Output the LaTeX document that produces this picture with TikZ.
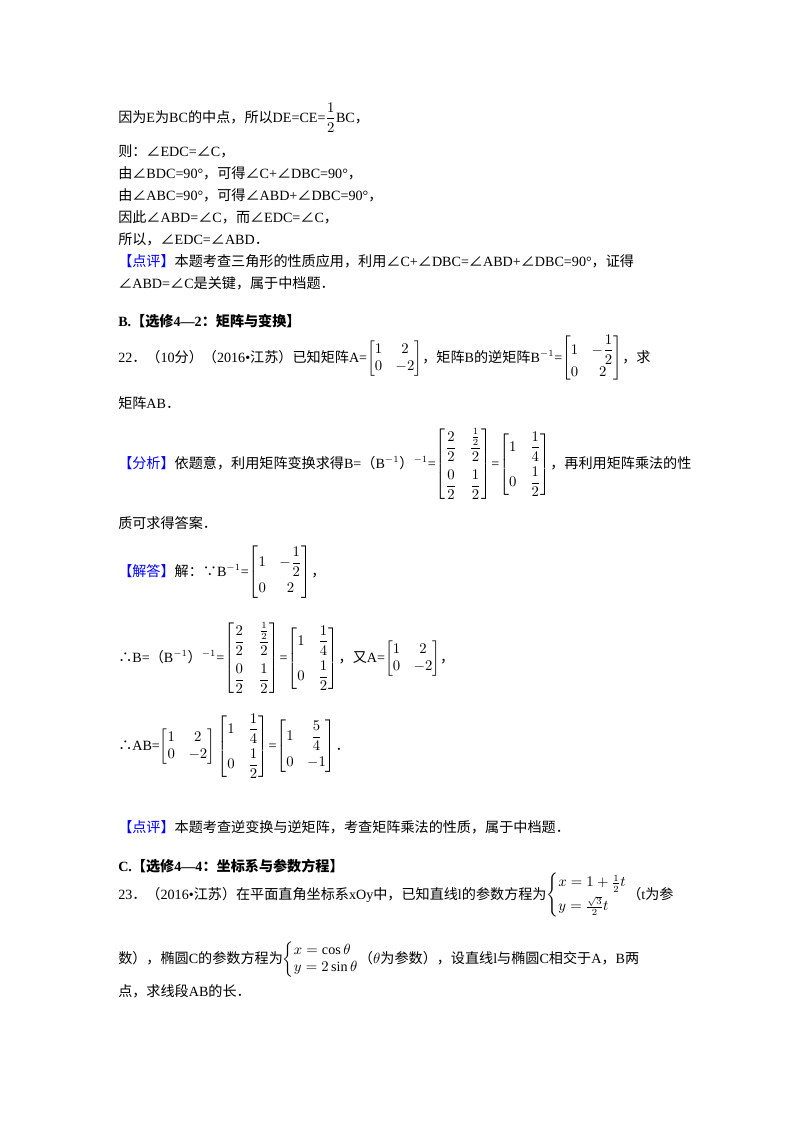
\documentclass[tikz,border=0pt]{standalone}
\usepackage{amsmath}
\usepackage{fontspec}
\setmainfont{Liberation Serif}
\newfontfamily\cjk{Noto Sans CJK SC}
\newcommand{\ang}{{\cjk ∠}}
\newcommand{\C}[1]{{\cjk #1}}
\definecolor{tagblue}{RGB}{0,0,255}
\newcommand{\btag}[1]{{\color{tagblue}\cjk 【#1】}}
\newcommand{\mm}[1]{\left[\begin{matrix}#1\end{matrix}\right]}
\begin{document}
\begin{tikzpicture}[x=0.744pt,y=-0.744pt,
  ln/.style={anchor=base west,inner sep=0pt,font=\fontsize{10.5}{13}\selectfont}]
\useasboundingbox (0,0) rectangle (800,1132);
\node[ln] (l1) at (118,122) {\C{因为}E\C{为}BC\C{的中点，所以}DE=CE=$\dfrac{1}{2}$BC\C{，}};
\node[ln] (l2) at (118,156) {\C{则：}\ang EDC=\ang C\C{，}};
\node[ln] (l3) at (118,178) {\C{由}\ang BDC=90°\C{，可得}\ang C+\ang DBC=90°\C{，}};
\node[ln] (l4) at (118,200) {\C{由}\ang ABC=90°\C{，可得}\ang ABD+\ang DBC=90°\C{，}};
\node[ln] (l5) at (118,222) {\C{因此}\ang ABD=\ang C\C{，而}\ang EDC=\ang C\C{，}};
\node[ln] (l6) at (118,244) {\C{所以，}\ang EDC=\ang ABD\C{．}};
\node[ln] (l7) at (118,266) {\btag{点评}\C{本题考查三角形的性质应用，利用}\ang C+\ang DBC=\ang ABD+\ang DBC=90°\C{，证得}};
\node[ln] (l8) at (118,288) {\ang ABD=\ang C\C{是关键，属于中档题．}};
\node[ln,font=\fontsize{10.5}{13}\selectfont\bfseries] (l9) at (118,326) {B.{\cjk\bfseries 【选修}4—2{\cjk\bfseries ：矩阵与变换】}};
\node[ln] (l10) at (118,362) {22\C{．（}10\C{分）（}2016•\C{江苏）已知矩阵}A=$\mm{1 & 2\\ 0 & -2}$\C{，矩阵}B\C{的逆矩阵}B$^{-1}$=$\mm{1 & -\dfrac12\\[4pt] 0 & 2}$\C{，求}};
\node[ln] (l11) at (118,408) {\C{矩阵}AB\C{．}};
\node[ln] (l12) at (118,468) {\btag{分析}\C{依题意，利用矩阵变换求得}B=\C{（}B$^{-1}$\C{）}$^{-1}$=$\mm{\dfrac22 & \dfrac{\frac12}{2}\\[10pt] \dfrac02 & \dfrac12}$=$\mm{1 & \dfrac14\\[8pt] 0 & \dfrac12}$\C{，再利用矩阵乘法的性}};
\node[ln] (l13) at (118,528) {\C{质可求得答案．}};
\node[ln] (l14) at (118,576) {\btag{解答}\C{解：∵}B$^{-1}$=$\mm{1 & -\dfrac12\\[6pt] 0 & 2}$\C{，}};
\node[ln] (l15) at (118,662) {\C{∴}B=\C{（}B$^{-1}$\C{）}$^{-1}$=$\mm{\dfrac22 & \dfrac{\frac12}{2}\\[10pt] \dfrac02 & \dfrac12}$=$\mm{1 & \dfrac14\\[8pt] 0 & \dfrac12}$\C{，又}A=$\mm{1 & 2\\ 0 & -2}$\C{，}};
\node[ln] (l16) at (118,750) {\C{∴}AB=$\mm{1 & 2\\ 0 & -2}\mm{1 & \dfrac14\\[8pt] 0 & \dfrac12}$=$\mm{1 & \dfrac54\\[6pt] 0 & -1}$\C{．}};
\node[ln] (l17) at (118,832) {\btag{点评}\C{本题考查逆变换与逆矩阵，考查矩阵乘法的性质，属于中档题．}};
\node[ln,font=\fontsize{10.5}{13}\selectfont\bfseries] (l18) at (118,871) {C.{\cjk\bfseries 【选修}4—4{\cjk\bfseries ：坐标系与参数方程】}};
\node[ln] (l19) at (118,899) {23\C{．（}2016•\C{江苏）在平面直角坐标系}xOy\C{中，已知直线}l\C{的参数方程为}$\left\{\begin{array}{@{}l@{}}x=1+\frac12t\\[3pt] y=\frac{\sqrt3}{2}t\end{array}\right.$\C{（}t\C{为参}};
\node[ln] (l20) at (118,963) {\C{数），椭圆}C\C{的参数方程为}$\left\{\begin{array}{@{}l@{}}x=\cos\theta\\ y=2\sin\theta\end{array}\right.$\C{（}$\theta$\C{为参数），设直线}l\C{与椭圆}C\C{相交于}A\C{，}B\C{两}};
\node[ln] (l21) at (118,996) {\C{点，求线段}AB\C{的长．}};
\end{tikzpicture}
\end{document}
